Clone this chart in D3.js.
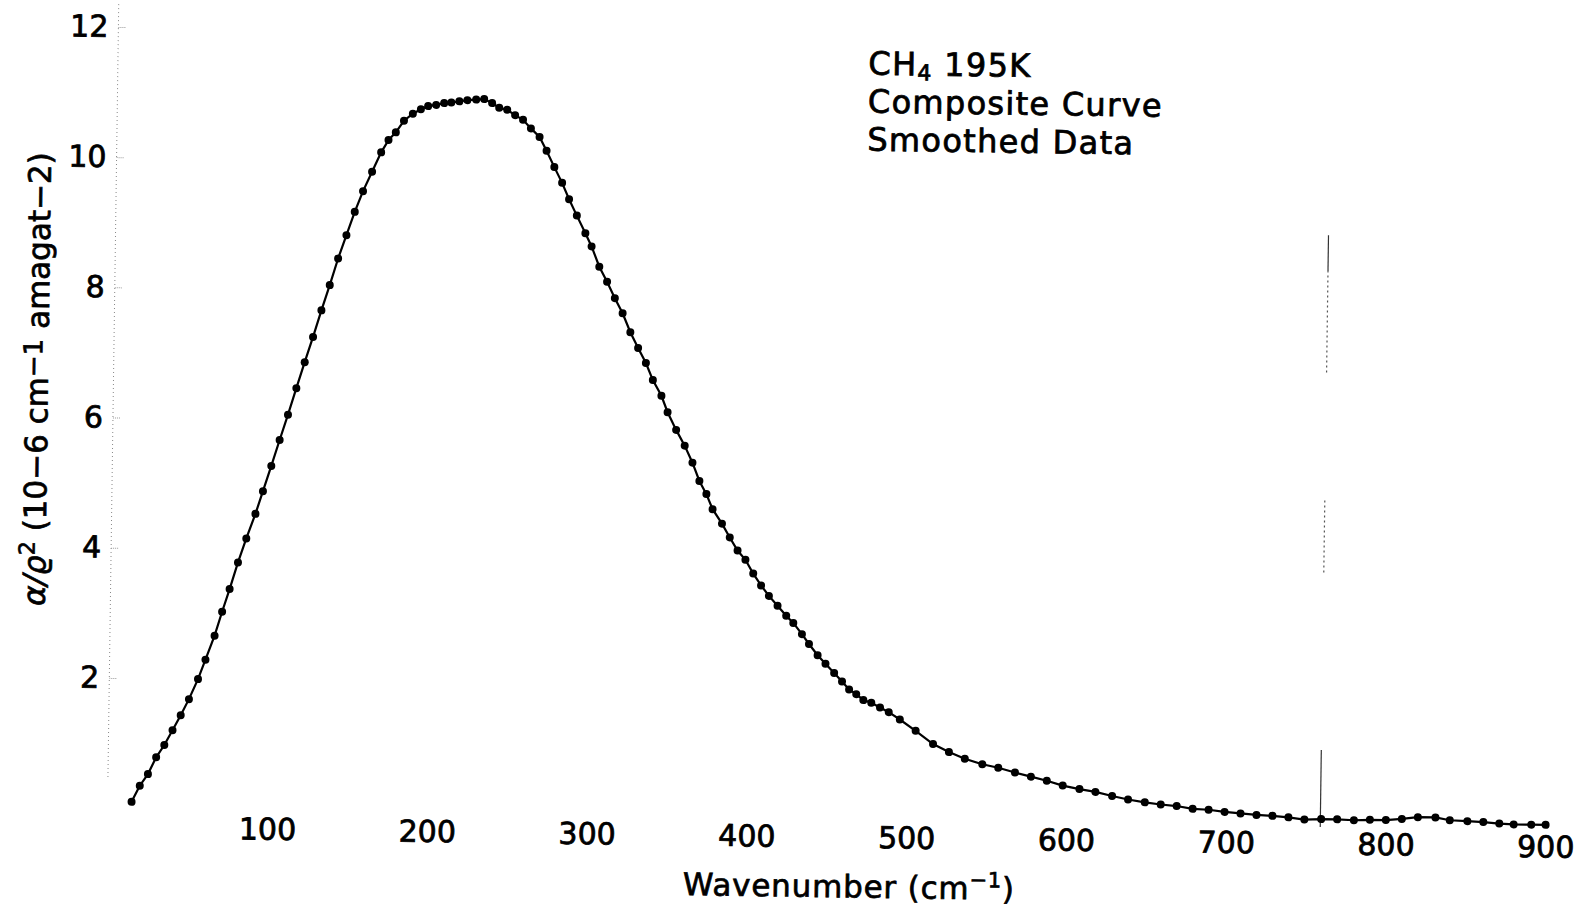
<!DOCTYPE html>
<html>
<head>
<meta charset="utf-8">
<script src="https://cdn.jsdelivr.net/npm/d3@7"></script>
<style>
    body { margin: 0; background: #fff; }
    svg { display: block; background: #fff; }
    text { font-family: "DejaVu Sans", "Liberation Sans", sans-serif; fill: #000; }
</style>
</head>
<body>
<svg id="chart" width="1581" height="911"></svg>
<script>
// values
const wavenumber = [
    15, 20, 25, 30, 35, 40, 45, 50,
    55.5, 60, 65.5, 70, 74.5, 79.5, 84.5, 90, 94.5, 99.5,
    104.5, 109.5, 114.5, 119.5, 124.5, 129.5, 134.5, 139.5, 144.5, 149.5,
    154.5, 160, 165.5, 170, 174.5, 179.5, 185, 190, 194.5, 199.5,
    204.5, 209, 214, 219, 224.5, 229.5, 234.5, 239, 244, 249,
    254, 259, 264.5, 269, 274, 279, 283.5, 288.5, 294, 298,
    303, 308, 313, 318, 323, 328, 333, 337.5, 343, 347,
    352.5, 358, 363, 367.5, 372, 376, 382, 387, 392, 397,
    402, 407, 412, 417.5, 423, 427.5, 433, 437.5, 443, 448,
    453.5, 458.5, 463, 467.5, 472, 477, 482.5, 488, 495, 505,
    516, 526, 536, 547, 557, 567.5, 577.5, 587.5, 597.5, 608,
    618, 628.5, 638.5, 649, 659, 669, 679, 689, 699, 709,
    719, 729, 739, 749, 759.5, 769.5, 780, 790, 800, 810,
    820, 831, 840, 851, 861, 871, 880, 891, 900
];
const absorption = [
    0.10, 0.35, 0.53, 0.79, 0.98, 1.21, 1.44, 1.69,
    2.00, 2.30, 2.67, 3.04, 3.39, 3.80, 4.17, 4.55, 4.90, 5.29,
    5.69, 6.08, 6.49, 6.89, 7.28, 7.69, 8.08, 8.49, 8.85, 9.21,
    9.53, 9.83, 10.13, 10.32, 10.44, 10.62, 10.73, 10.80, 10.85, 10.87,
    10.90, 10.91, 10.93, 10.95, 10.96, 10.97, 10.91, 10.84, 10.81, 10.73,
    10.66, 10.53, 10.40, 10.19, 9.94, 9.70, 9.45, 9.20, 8.93, 8.73,
    8.42, 8.19, 7.94, 7.71, 7.42, 7.18, 6.95, 6.69, 6.45, 6.20,
    5.93, 5.69, 5.43, 5.15, 4.95, 4.72, 4.50, 4.29, 4.09, 3.95,
    3.74, 3.56, 3.40, 3.25, 3.10, 2.99, 2.82, 2.67, 2.50, 2.37,
    2.23, 2.10, 1.98, 1.91, 1.82, 1.78, 1.71, 1.64, 1.53, 1.36,
    1.16, 1.04, 0.94, 0.86, 0.81, 0.74, 0.68, 0.62, 0.55, 0.50,
    0.46, 0.40, 0.35, 0.31, 0.28, 0.26, 0.22, 0.21, 0.18, 0.16,
    0.14, 0.13, 0.11, 0.08, 0.09, 0.09, 0.08, 0.09, 0.09, 0.11,
    0.14, 0.14, 0.10, 0.09, 0.08, 0.06, 0.05, 0.05, 0.05
];
const xTicks = [100, 200, 300, 400, 500, 600, 700, 800, 900];
const yTicks = [2, 4, 6, 8, 10, 12];

// the thin vertical marker line near 760 cm-1
const markerWavenumber = 759;
const markerSolid = [[8.5, 9.06], [-0.03, 1.15]];
const markerDashed = [[6.95, 8.5], [3.88, 5.03]];

const noteLines = ['Composite Curve', 'Smoothed Data'];

const svg = d3.select('#chart');

// the scanned page is turned slightly clockwise
const tilt = 0.8;
const g = svg.append('g')
    .attr('transform', `rotate(${tilt}, 105, 808)`);

const xScale = d3.scaleLinear()
    .domain([0, 900])
    .range([107.5, 1545.7]);

const yScale = d3.scaleLinear()
    .domain([0, 12])
    .range([808, 26.8]);

// faint dotted y axis
g.append('line')
    .attr('x1', xScale(0)).attr('x2', xScale(0))
    .attr('y1', yScale(12.35)).attr('y2', yScale(0.45))
    .attr('stroke', '#888')
    .attr('stroke-width', 1)
    .attr('stroke-dasharray', '1 3');

const xAxis = d3.axisBottom(xScale)
    .tickValues(xTicks)
    .tickSize(0)
    .tickPadding(8)
    .tickFormat(d3.format('d'));

const xAxisG = g.append('g')
    .attr('transform', `translate(0, ${yScale(0)})`)
    .call(xAxis);
xAxisG.select('.domain').remove();
xAxisG.selectAll('text')
    .style('font-size', '30px')
    .style('font-family', '"DejaVu Sans", sans-serif')
    .style('stroke', '#000')
    .style('stroke-width', '0.8px');

const yAxis = d3.axisLeft(yScale)
    .tickValues(yTicks)
    .tickSize(-7)
    .tickPadding(10);

const yAxisG = g.append('g')
    .attr('transform', `translate(${xScale(0)}, 0)`)
    .call(yAxis);
yAxisG.select('.domain').remove();
yAxisG.selectAll('.tick line')
    .attr('stroke', '#999')
    .attr('stroke-dasharray', '1 1');
yAxisG.selectAll('text')
    .style('font-size', '30px')
    .style('font-family', '"DejaVu Sans", sans-serif')
    .style('stroke', '#000')
    .style('stroke-width', '0.8px');

// marker line
g.selectAll('.marker-solid').data(markerSolid)
    .enter().append('line')
    .attr('class', 'marker-solid')
    .attr('x1', xScale(markerWavenumber)).attr('x2', xScale(markerWavenumber))
    .attr('y1', d => yScale(d[0])).attr('y2', d => yScale(d[1]))
    .attr('stroke', '#333')
    .attr('stroke-width', 1.2);

g.selectAll('.marker-dashed').data(markerDashed)
    .enter().append('line')
    .attr('class', 'marker-dashed')
    .attr('x1', xScale(markerWavenumber)).attr('x2', xScale(markerWavenumber))
    .attr('y1', d => yScale(d[0])).attr('y2', d => yScale(d[1]))
    .attr('stroke', '#555')
    .attr('stroke-width', 1.2)
    .attr('stroke-dasharray', '2 3');

// curve and dots
const points = wavenumber.map((w, i) => [w, absorption[i]]);

const line = d3.line()
    .x(d => xScale(d[0]))
    .y(d => yScale(d[1]));

g.append('path')
    .datum(points)
    .attr('d', line)
    .attr('fill', 'none')
    .attr('stroke', '#000')
    .attr('stroke-width', 2.2);

g.selectAll('circle').data(points)
    .enter().append('circle')
    .attr('cx', d => xScale(d[0]))
    .attr('cy', d => yScale(d[1]))
    .attr('r', 4)
    .attr('fill', '#000');

// axis titles
const xTitle = g.append('text')
    .attr('x', 684)
    .attr('y', 887)
    .attr('text-anchor', 'start')
    .style('font-size', '31px')
    .style('letter-spacing', '0.8px')
    .style('stroke', '#000')
    .style('stroke-width', '0.7px');
xTitle.append('tspan').text('Wavenumber (cm');
xTitle.append('tspan').attr('dy', -12).style('font-size', '21px').text('\u22121');
xTitle.append('tspan').attr('dy', 12).text(')');

const yTitle = g.append('text')
    .attr('transform', 'translate(42, 380) rotate(-90)')
    .attr('text-anchor', 'middle')
    .style('font-size', '31px')
    .style('stroke', '#000')
    .style('stroke-width', '0.7px');
yTitle.append('tspan').style('font-style', 'italic').text('\u03b1/\u03f1');
yTitle.append('tspan').attr('dy', -11).style('font-size', '22px').text('2');
yTitle.append('tspan').attr('dy', 11).text(' (10\u22126 cm');
yTitle.append('tspan').attr('dy', -6).style('font-size', '26px').text('\u22121');
yTitle.append('tspan').attr('dy', 6).text(' amagat\u22122)');

// annotation in the upper right
const note = g.append('g')
    .attr('transform', 'translate(858, 0)')
    .style('font-size', '32px')
    .style('letter-spacing', '1.3px')
    .style('stroke', '#000')
    .style('stroke-width', '0.8px');

const firstLine = note.append('text').attr('y', 64);
firstLine.append('tspan').text('CH');
firstLine.append('tspan').attr('dy', 5).style('font-size', '22px').text('4');
firstLine.append('tspan').attr('dy', -5).text(' 195K');

note.selectAll('.note-line').data(noteLines)
    .enter().append('text')
    .attr('class', 'note-line')
    .attr('y', (d, i) => 102 + i * 38)
    .text(d => d);
</script>
</body>
</html>
